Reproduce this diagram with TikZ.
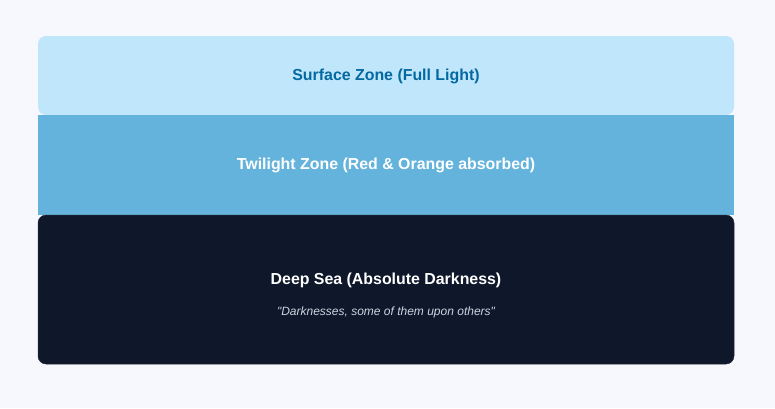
\documentclass[tikz,border=0pt]{standalone}
\usepackage{fontspec}
\setmainfont{Liberation Sans}
\usepackage{xcolor}
\definecolor{pagebg}{HTML}{F7F8FD}
\definecolor{surfacefill}{HTML}{BFE6FB}
\definecolor{surfacetext}{HTML}{0369A1}
\definecolor{twilightfill}{HTML}{63B3DC}
\definecolor{deepfill}{HTML}{0F172A}
\definecolor{quotetext}{HTML}{CBD5E1}

\begin{document}
\begin{tikzpicture}[x=1pt,y=-1pt,
  zonetitle/.style={font=\bfseries\fontsize{15.9}{19}\selectfont},
  zonequote/.style={font=\itshape\fontsize{12}{14}\selectfont, text=quotetext}]
\fill[pagebg] (0,0) rectangle (775,408);
\useasboundingbox (0,0) rectangle (775,408);

\fill[surfacefill, rounded corners=8pt] (38,36) rectangle (734,115);
\fill[twilightfill] (38,115) rectangle (734,215);
\filldraw[fill=deepfill, draw=deepfill!80!gray, line width=0.5pt, rounded corners=8pt] (38,215) rectangle (734,364);

\node[zonetitle, text=surfacetext] (surface) at (386,76.5) {Surface Zone (Full Light)};
\node[zonetitle, text=white] (twilight) at (386,165.5) {Twilight Zone (Red \& Orange absorbed)};
\node[zonetitle, text=white] (deep) at (386,280.5) {Deep Sea (Absolute Darkness)};
\node[zonequote] (quote) at (386,312.5) {\textquotedbl Darknesses, some of them upon others\textquotedbl};
\end{tikzpicture}
\end{document}
